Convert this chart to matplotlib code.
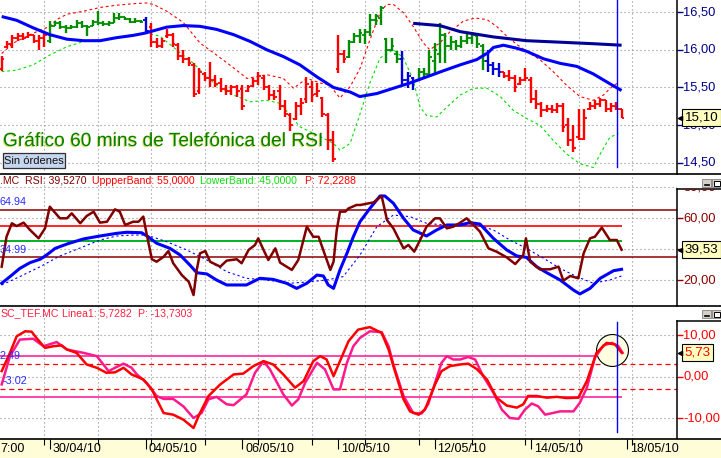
import matplotlib
matplotlib.use("Agg")
import matplotlib.pyplot as plt
import matplotlib.patheffects as pe
from matplotlib.lines import Line2D
from matplotlib.patches import Rectangle
import numpy as np

plt.rcParams['font.family'] = ['Liberation Sans', 'DejaVu Sans']

# ---------------------------------------------------------------- data
# hourly OHLC bars of TEF.MC, 29/04/10 .. 17/05/10 (9 bars per day)
highs = [15.92, 16.11, 16.20, 16.22, 16.22, 16.24, 16.20, 16.20, 16.24,
         16.38, 16.38, 16.38, 16.33, 16.33, 16.40, 16.38, 16.33, 16.40,
         16.51, 16.38, 16.38, 16.49, 16.49, 16.44, 16.42, 16.42, 16.40,
         16.44, 16.36, 16.16, 16.16, 16.27, 16.22, 16.09, 16.00, 15.91,
         15.82, 15.76, 15.71, 15.84, 15.67, 15.62, 15.53, 15.53, 15.53,
         15.53, 15.53, 15.62, 15.71, 15.67, 15.53, 15.47, 15.53, 15.33,
         15.16, 15.31, 15.36, 15.64, 15.58, 15.56, 15.38, 15.16, 14.93,
         16.20, 16.00, 16.13, 16.22, 16.27, 16.27, 16.47, 16.47, 16.58,
         16.16, 16.16, 15.98, 15.98, 15.71, 15.64, 15.76, 15.76, 16.00,
         16.09, 16.36, 16.22, 16.18, 16.13, 16.18, 16.22, 16.24, 16.18,
         16.07, 16.00, 15.84, 15.82, 15.71, 15.73, 15.67, 15.64, 15.76,
         15.64, 15.47, 15.31, 15.27, 15.27, 15.29, 15.29, 15.09, 15.00,
         15.22, 15.22, 15.31, 15.33, 15.36, 15.33, 15.29, 15.31, 15.22]
lows = [15.72, 16.02, 16.02, 16.11, 16.13, 16.16, 16.09, 16.00, 16.04,
        16.09, 16.31, 16.27, 16.22, 16.27, 16.29, 16.29, 16.18, 16.31,
        16.33, 16.32, 16.32, 16.35, 16.40, 16.40, 16.35, 16.35, 16.35,
        16.22, 16.04, 16.02, 16.02, 16.16, 16.04, 15.87, 15.82, 15.78,
        15.38, 15.42, 15.58, 15.51, 15.51, 15.44, 15.40, 15.40, 15.38,
        15.20, 15.44, 15.51, 15.53, 15.47, 15.33, 15.33, 15.20, 15.11,
        14.93, 15.07, 15.13, 15.29, 15.31, 15.38, 15.11, 14.67, 14.51,
        15.69, 15.82, 15.89, 16.09, 16.09, 16.07, 16.18, 16.33, 16.33,
        15.82, 15.98, 15.82, 15.53, 15.49, 15.47, 15.58, 15.62, 15.67,
        15.67, 15.82, 15.82, 16.00, 16.00, 16.02, 16.07, 16.07, 16.02,
        15.73, 15.71, 15.67, 15.64, 15.62, 15.58, 15.44, 15.53, 15.58,
        15.29, 15.22, 15.11, 15.18, 15.16, 15.16, 14.91, 14.73, 14.64,
        14.80, 14.80, 15.20, 15.22, 15.24, 15.18, 15.18, 15.20, 15.10]
opens = [15.75, 16.04, 16.08, 16.15, 16.18, 16.17, 16.20, 16.12, 16.15,
         16.12, 16.32, 16.35, 16.30, 16.29, 16.30, 16.36, 16.32, 16.32,
         16.37, 16.35, 16.34, 16.36, 16.42, 16.43, 16.41, 16.37, 16.38,
         16.40, 16.30, 16.10, 16.05, 16.18, 16.20, 16.06, 15.92, 15.88,
         15.80, 15.45, 15.68, 15.62, 15.60, 15.56, 15.48, 15.45, 15.50,
         15.48, 15.46, 15.52, 15.58, 15.62, 15.50, 15.40, 15.45, 15.25,
         15.14, 15.08, 15.25, 15.35, 15.50, 15.42, 15.36, 15.14, 14.80,
         15.75, 15.95, 15.90, 16.10, 16.18, 16.20, 16.24, 16.40, 16.42,
         16.14, 16.00, 15.95, 15.88, 15.60, 15.62, 15.60, 15.70, 15.68,
         15.85, 15.95, 16.20, 16.05, 16.10, 16.05, 16.12, 16.15, 16.18,
         16.05, 15.85, 15.80, 15.75, 15.70, 15.65, 15.62, 15.54, 15.60,
         15.60, 15.35, 15.28, 15.20, 15.22, 15.20, 15.25, 15.00, 14.80,
         14.85, 14.82, 15.22, 15.25, 15.28, 15.33, 15.22, 15.25, 15.22]
closes = [15.88, 16.08, 16.15, 16.18, 16.16, 16.20, 16.12, 16.15, 16.20,
          16.32, 16.35, 16.30, 16.29, 16.30, 16.36, 16.32, 16.30, 16.37,
          16.35, 16.34, 16.35, 16.42, 16.43, 16.41, 16.37, 16.38, 16.37,
          16.25, 16.10, 16.05, 16.12, 16.20, 16.08, 15.92, 15.88, 15.82,
          15.42, 15.70, 15.62, 15.60, 15.55, 15.48, 15.45, 15.50, 15.45,
          15.25, 15.50, 15.58, 15.65, 15.50, 15.40, 15.38, 15.25, 15.15,
          15.00, 15.25, 15.30, 15.55, 15.40, 15.45, 15.15, 14.80, 14.55,
          15.95, 15.88, 16.10, 16.18, 16.22, 16.24, 16.40, 16.45, 16.55,
          16.00, 16.05, 15.88, 15.60, 15.65, 15.58, 15.70, 15.68, 15.90,
          16.00, 16.20, 16.05, 16.10, 16.05, 16.12, 16.15, 16.20, 16.08,
          15.85, 15.80, 15.75, 15.70, 15.65, 15.62, 15.50, 15.60, 15.62,
          15.35, 15.28, 15.20, 15.22, 15.20, 15.25, 14.98, 14.80, 14.70,
          14.82, 15.10, 15.25, 15.28, 15.33, 15.22, 15.25, 15.22, 15.10]
# bar colour state: r = bearish, g = bullish, b = neutral
bar_state = ("rrrrrrrrr" + "g" * 18 + "b" + "r" * 37 + "g" * 10 + "bbb"
             + "g" * 13 + "bbb" + "r" * 23)

# moving averages / bands (bar position, price)
ma_pts = [(0, 16.44), (2.8, 16.39), (5.9, 16.29), (9.0, 16.20), (12.2, 16.14),
          (15.3, 16.12), (18.4, 16.12), (21.5, 16.16), (24.6, 16.19), (26.8, 16.22),
          (30.9, 16.30), (34.0, 16.32), (37.1, 16.31), (40.2, 16.27), (43.4, 16.20),
          (46.5, 16.11), (49.6, 16.00), (52.7, 15.91), (55.8, 15.80), (59.0, 15.64),
          (62.1, 15.50), (65.2, 15.44), (67.0, 15.38), (70.2, 15.42), (73.3, 15.49),
          (76.4, 15.56), (79.5, 15.64), (82.6, 15.72), (85.8, 15.80), (88.9, 15.87),
          (91.0, 15.96), (92.0, 16.03), (93.9, 16.06), (96.4, 16.02), (98.2, 15.98),
          (101.4, 15.88), (104.5, 15.82), (107.6, 15.78), (110.7, 15.68),
          (113.8, 15.55), (116.0, 15.46)]
slow_ma_pts = [(77.0, 16.35), (82.0, 16.32), (85.8, 16.24), (92.0, 16.17),
               (98.2, 16.12), (104.5, 16.10), (110.7, 16.08), (116.0, 16.06)]
upper_band_pts = [(0, 15.95), (2.2, 16.09), (5.9, 16.22), (9.0, 16.31), (10.3, 16.40),
                  (12.2, 16.47), (15.3, 16.51), (18.4, 16.56), (21.5, 16.59),
                  (24.6, 16.61), (27.1, 16.62), (28.4, 16.60), (30.9, 16.51),
                  (34.0, 16.36), (37.1, 16.09), (40.2, 15.93), (43.4, 15.76),
                  (45.9, 15.62), (49.6, 15.67), (52.7, 15.62), (54.6, 15.49),
                  (57.1, 15.62), (59.6, 15.56), (61.4, 15.53), (63.3, 15.36),
                  (65.2, 15.51), (67.1, 15.76), (68.9, 16.13), (70.8, 16.49),
                  (72.0, 16.60), (73.3, 16.60), (75.2, 16.49), (77.0, 16.31),
                  (78.9, 16.09), (80.1, 16.00), (82.0, 16.09), (83.9, 16.24),
                  (86.4, 16.38), (88.6, 16.42), (90.8, 16.40), (92.6, 16.31),
                  (94.5, 16.18), (96.4, 16.07), (98.2, 15.98), (100.7, 15.87),
                  (103.2, 15.71), (105.7, 15.53), (108.2, 15.38), (110.7, 15.33),
                  (112.6, 15.40), (114.5, 15.53), (115.4, 15.56)]
lower_band_pts = [(0, 15.71), (2.8, 15.73), (5.9, 15.80), (9.0, 15.93), (12.2, 16.04),
                  (15.3, 16.11), (18.4, 16.13), (21.5, 16.16), (24.6, 16.20),
                  (27.1, 16.22), (29.6, 16.18), (31.5, 16.07), (33.4, 15.96),
                  (35.9, 15.82), (38.4, 15.64), (40.9, 15.49), (43.4, 15.40),
                  (46.5, 15.31), (49.6, 15.33), (52.1, 15.29), (54.0, 15.13),
                  (55.8, 14.98), (59.0, 14.87), (62.1, 14.76), (63.3, 14.67),
                  (65.2, 14.76), (67.1, 15.16), (68.9, 15.56), (70.8, 15.89),
                  (73.3, 16.00), (75.2, 15.89), (77.0, 15.60), (78.3, 15.24),
                  (79.5, 15.13), (81.4, 15.11), (83.3, 15.24), (85.8, 15.40),
                  (88.3, 15.49), (90.8, 15.49), (93.3, 15.38), (95.7, 15.20),
                  (98.2, 15.09), (100.7, 15.00), (103.2, 14.80), (105.7, 14.62),
                  (108.2, 14.49), (110.7, 14.44), (112.0, 14.62), (113.8, 14.84),
                  (115.4, 14.89)]

# RSI panel
rsi_pts = [(0.0, 28.6), (0.9, 47.9), (1.9, 56.6), (2.8, 54.8), (4.1, 57.0), (5.3, 52.3),
           (6.9, 46.9), (8.1, 53.3), (9.0, 67.3), (10.9, 59.8), (12.2, 59.8), (13.1, 63.0),
           (14.7, 56.6), (15.9, 61.3), (17.2, 64.1), (18.4, 57.0), (19.7, 57.6),
           (21.2, 65.6), (22.1, 64.1), (23.1, 55.5), (24.6, 57.6), (25.6, 57.6),
           (26.5, 60.9), (27.1, 50.1), (28.1, 33.4), (29.0, 31.8), (30.3, 35.0),
           (31.2, 38.7), (32.1, 30.8), (33.7, 23.2), (35.0, 18.9), (35.9, 10.3),
           (36.5, 26.5), (37.1, 37.2), (38.1, 38.7), (39.0, 31.8), (40.9, 28.6),
           (42.1, 32.5), (44.0, 33.4), (44.9, 30.8), (46.2, 39.4), (47.4, 42.6),
           (48.0, 46.9), (49.0, 39.4), (49.9, 32.9), (51.2, 40.4), (52.1, 31.2),
           (54.3, 26.5), (55.5, 32.9), (57.1, 54.4), (58.3, 47.9), (59.3, 47.9),
           (60.5, 36.1), (61.5, 26.5), (62.1, 31.8), (62.7, 52.3), (63.3, 64.1),
           (64.3, 64.1), (64.9, 66.2), (66.4, 68.4), (67.1, 68.4), (69.6, 70.1),
           (71.1, 74.2), (72.1, 58.7), (73.3, 53.3), (75.2, 40.4), (76.1, 42.6),
           (77.2, 38.3), (78.3, 45.8), (79.5, 54.4), (81.1, 59.8), (82.0, 59.8),
           (83.3, 53.3), (84.5, 54.4), (85.8, 57.0), (87.0, 59.8), (88.3, 55.5),
           (89.5, 51.2), (91.1, 40.4), (92.6, 38.3), (94.5, 34.6), (96.1, 30.3),
           (97.6, 36.1), (98.1, 46.9), (98.9, 31.8), (100.7, 26.9), (102.6, 26.9),
           (104.2, 28.6), (105.1, 19.6), (106.4, 22.6), (107.9, 21.1), (108.9, 37.2),
           (110.1, 46.9), (111.0, 47.9), (112.3, 53.8), (113.8, 45.8), (115.1, 45.8),
           (116.0, 39.53)]
rsi_avg_pts = [(0.0, 17.9), (1.55, 22.2), (3.4, 27.5), (5.3, 31.2), (7.2, 33.4),
               (8.4, 36.1), (10.0, 40.4), (12.2, 43.2), (15.3, 46.5), (18.4, 48.4),
               (21.5, 50.1), (23.4, 50.8), (26.2, 50.5), (27.4, 47.9), (29.0, 43.7),
               (31.5, 40.4), (33.4, 36.1), (35.2, 29.7), (36.5, 24.7), (38.4, 23.9),
               (40.2, 20.0), (42.1, 16.8), (45.8, 16.8), (48.3, 21.1), (50.8, 20.4),
               (53.3, 17.9), (55.2, 14.6), (57.1, 17.9), (59.0, 23.2), (60.2, 22.6),
               (61.1, 16.8), (62.1, 14.6), (63.3, 26.5), (64.6, 37.2), (65.8, 47.9),
               (67.05, 57.6), (68.9, 66.2), (70.8, 74.2), (71.7, 74.2), (73.3, 69.5),
               (75.2, 59.8), (77.0, 52.3), (79.5, 48.4), (81.4, 52.3), (83.3, 55.5),
               (85.8, 55.5), (87.6, 57.0), (89.5, 56.1), (92.0, 46.9), (94.5, 39.4),
               (96.4, 35.5), (98.2, 34.6), (100.1, 28.6), (102.0, 24.7), (104.5, 20.0),
               (107.0, 13.5), (108.2, 11.0), (110.1, 14.6), (112.0, 21.1), (114.5, 26.0),
               (116.0, 26.9)]
rsi_signal_pts = [(0.0, 16.8), (3.4, 22.2), (7.2, 28.6), (10.9, 35.5), (15.3, 41.5),
                  (18.4, 45.8), (21.5, 48.4), (24.6, 49.0), (27.1, 49.0), (30.9, 44.7),
                  (34.6, 39.4), (38.4, 32.9), (42.1, 25.4), (45.8, 21.1), (49.6, 20.0),
                  (54.0, 17.9), (57.7, 18.9), (60.8, 20.0), (63.9, 22.2), (67.05, 36.1),
                  (70.2, 54.4), (73.3, 61.9), (76.4, 60.9), (79.5, 56.6), (82.6, 55.5),
                  (85.8, 55.5), (88.9, 55.5), (92.0, 52.3), (95.1, 45.8), (98.2, 40.4),
                  (101.4, 34.0), (104.5, 27.5), (107.6, 22.2), (110.7, 17.9), (113.8, 20.0),
                  (116.0, 22.6)]
rsi_upper, rsi_lower = 55.0, 45.0
rsi_mid_line = 45.4
rsi_max_line, rsi_min_line = 64.94, 34.99

# oscillator panel
osc_pts = [(0.0, 1.3), (1.55, 5.7), (2.8, 9.7), (4.4, 10.9), (5.6, 10.8), (6.5, 9.3),
           (8.1, 6.9), (9.7, 7.3), (11.2, 7.5), (12.2, 6.5), (14.0, 5.7), (15.9, 2.9),
           (17.8, 2.1), (19.6, 0.9), (21.2, 1.0), (22.8, 2.1), (24.3, 0.5), (26.5, -0.7),
           (28.1, -3.1), (29.0, -5.5), (30.3, -8.8), (32.1, -9.2), (34.0, -10.4),
           (35.9, -12.4), (37.1, -8.8), (38.7, -4.7), (40.9, -1.9), (43.4, 0.5),
           (45.2, 0.7), (47.1, 2.5), (49.0, 3.7), (50.8, 2.9), (52.7, 0.5), (54.9, -2.7),
           (56.5, -1.1), (58.3, 3.7), (59.6, 4.9), (60.8, 4.1), (62.1, 0.1), (63.3, 3.7),
           (64.9, 8.5), (66.7, 11.3), (68.9, 11.9), (71.1, 10.5), (72.4, 6.5), (73.3, 2.5),
           (75.2, -5.5), (76.4, -8.4), (78.0, -9.2), (79.2, -8.0), (80.1, -5.1),
           (81.1, -1.9), (82.3, 1.3), (83.9, 2.5), (85.8, 2.9), (87.3, 3.1), (88.9, 1.8),
           (90.8, -0.7), (92.6, -5.1), (94.5, -7.0), (96.4, -7.5), (97.6, -6.7),
           (98.5, -4.7), (100.1, -4.7), (102.0, -5.1), (103.9, -4.9), (105.7, -5.2),
           (107.9, -5.1), (109.5, -1.1), (111.3, 5.7), (113.2, 8.1), (114.8, 7.7),
           (116.0, 5.73)]
osc_smooth_pts = [(0.0, -1.9), (1.55, 4.9), (3.4, 8.9), (5.9, 9.1), (7.8, 7.3),
                  (10.3, 8.3), (12.2, 6.5), (15.3, 5.7), (17.8, 4.9), (20.0, 1.3),
                  (21.2, 2.1), (22.8, 3.1), (24.3, 2.1), (25.3, 0.5), (27.1, -1.5),
                  (29.0, -4.7), (30.3, -5.4), (32.1, -5.4), (34.0, -7.2), (35.9, -10.0),
                  (37.4, -8.8), (38.7, -5.5), (40.2, -4.9), (42.1, -6.7), (43.4, -6.9),
                  (45.8, -4.3), (47.4, 0.9), (49.0, 3.7), (50.2, 1.7), (52.7, -4.3),
                  (54.3, -7.0), (55.5, -5.5), (56.8, -1.5), (59.0, 3.3), (60.5, 1.7),
                  (62.1, -3.1), (63.3, -3.1), (64.6, 3.3), (65.8, 7.3), (67.05, 9.3),
                  (68.9, 10.9), (71.1, 10.7), (72.4, 7.3), (73.3, 2.9), (75.2, -4.7),
                  (77.0, -8.8), (78.6, -8.9), (79.8, -6.7), (80.8, -2.7), (82.3, 3.3),
                  (83.3, 4.9), (84.5, 4.1), (85.8, 4.1), (87.3, 4.7), (88.6, 4.1),
                  (90.1, 0.1), (92.0, -3.9), (93.6, -8.0), (95.1, -10.0), (96.7, -10.2),
                  (97.9, -8.0), (99.2, -6.5), (100.4, -7.2), (101.7, -9.2), (104.5, -8.4),
                  (107.0, -8.4), (108.2, -6.3), (109.5, -2.7), (111.0, 4.5), (112.6, 7.5),
                  (114.2, 8.1), (115.4, 7.3), (116.2, 5.7)]
osc_outer, osc_inner = 5.0, 3.0
circle_bar, circle_val = 114.2, 6.3
cursor_bar = 115.1

# axis labels
price_ticks = [14.5, 15.0, 15.5, 16.0, 16.5]
rsi_ticks = [20, 40, 60, 80]
rsi_labels = [20, 60, 80]          # 40,00 is hidden under the value box
osc_ticks = [-10, 0, 10]
grid_bars = [8, 18, 28, 38, 48, 58, 68, 78, 88, 98, 108, 118]
day_label_bars = [9, 27, 45, 63, 81, 99, 117]
day_labels = ['30/04/10', '04/05/10', '06/05/10', '10/05/10', '12/05/10',
              '14/05/10', '18/05/10']
title = 'Gráfico 60 mins de Telefónica del RSI'

# ---------------------------------------------------------------- layout
W, H = 721, 458
fig = plt.figure(figsize=(W / 100, H / 100), dpi=100)
fig.patch.set_facecolor('white')


def px_rect(x0, y0, x1, y1):
    return [x0 / W, 1 - y1 / H, (x1 - x0) / W, (y1 - y0) / H]


XLIM = (-0.318, 126.37)
XLIM_FULL = (-0.318, 134.6)
P1 = (0, 174, (14.354, 16.659))
P2 = (174, 306, (3.23, 88.39))
P3 = (306, 439, (-15.06, 16.99))


def val_at(panel, py):
    y0, y1, (lo, hi) = panel
    return hi - (py - y0) * (hi - lo) / (y1 - y0)


def make_main(panel):
    y0, y1, ylim = panel
    ax = fig.add_axes(px_rect(0, y0, 677, y1))
    ax.set_xlim(*XLIM)
    ax.set_ylim(*ylim)
    ax.set_xticks([])
    ax.set_yticks([])
    for s in ax.spines.values():
        s.set_visible(False)
    return ax


ax1 = make_main(P1)
ax2 = make_main(P2)
ax3 = make_main(P3)

GRID = dict(color='#8a8a8a', lw=0.8, ls=(0, (1, 2.6)), zorder=0)
for ax, hv in ((ax1, price_ticks), (ax2, rsi_ticks), (ax3, osc_ticks)):
    for g in grid_bars:
        ax.axvline(g, **GRID)
    for v in hv:
        ax.axhline(v, **GRID)

# ---------------------------------------------------------------- price panel
idx = np.arange(len(closes))
cmap = {'r': '#ff0000', 'g': '#008c00', 'b': '#0000d8'}
cols = [cmap[c] for c in bar_state]
ax1.plot(*zip(*upper_band_pts), color='#ff0000', lw=0.8, ls=(0, (2.5, 2.5)), zorder=2)
ax1.plot(*zip(*lower_band_pts), color='#00e000', lw=0.8, ls=(0, (2.5, 2.5)), zorder=2)
ax1.vlines(idx, lows, highs, colors=cols, lw=1.7, zorder=3)
ax1.hlines(opens, idx - 0.5, idx, colors=cols, lw=1.3, zorder=3)
ax1.hlines(closes, idx, idx + 0.5, colors=cols, lw=1.3, zorder=3)
ax1.plot(*zip(*ma_pts), color='#0000ff', lw=2.2, zorder=4, solid_capstyle='butt')
ax1.plot(*zip(*slow_ma_pts), color='#000098', lw=2.2, zorder=4, solid_capstyle='butt')
ax1.axvline(cursor_bar, ymin=0.04, ymax=1, color='#0000ff', lw=1, zorder=5)

ax1.text(3 / 677, 1 - 146 / 174, title, transform=ax1.transAxes, fontsize=13.8,
         color='#008000', va='baseline', ha='left', zorder=6,
         path_effects=[pe.SimplePatchShadow(offset=(-0.7, -0.7), shadow_rgbFace='#d8d850',
                                            alpha=0.9), pe.Normal()])
ax1.add_patch(Rectangle((3 / 677, 1 - 168 / 174), 62 / 677, 15 / 174,
                        transform=ax1.transAxes, fc='#c6d6ee', ec='#303030', lw=0.9,
                        zorder=6))
ax1.text(34 / 677, 1 - 160.5 / 174, 'Sin órdenes', transform=ax1.transAxes,
         fontsize=8, ha='center', va='center', color='#101010', zorder=7)

# ---------------------------------------------------------------- RSI panel
ax2.axhline(rsi_max_line, color='#8b0000', lw=1.1, zorder=1)
ax2.axhline(rsi_min_line, color='#8b0000', lw=1.1, zorder=1)
ax2.hlines(rsi_upper, XLIM[0], idx[-1] + 0.1, color='#ff0000', lw=1.2, zorder=1)
ax2.hlines(rsi_mid_line, XLIM[0], idx[-1] + 0.1, color='#0000ff', lw=1.2, zorder=1)
ax2.hlines(rsi_lower, XLIM[0], idx[-1] + 0.1, color='#00d000', lw=1.2, zorder=1)
ax2.plot(*zip(*rsi_signal_pts), color='#0000ff', lw=0.8, ls=(0, (2, 2.5)), zorder=2)
ax2.plot(*zip(*rsi_avg_pts), color='#0000ff', lw=2.2, zorder=3)
ax2.plot(*zip(*rsi_pts), color='#800000', lw=1.8, zorder=4)


def ptext(ax, panel, px, py, s, color, size, **kw):
    y0, y1, _ = panel
    ax.text(px / 677, 1 - (py - y0) / (y1 - y0), s, transform=ax.transAxes,
            color=color, fontsize=size, ha='left', va='center', zorder=8, **kw)


ptext(ax2, P2, 0, 180.5, '.MC', '#800000', 7.6)
ptext(ax2, P2, 25, 180.5, 'RSI: 39,5270', '#800000', 7.6)
ptext(ax2, P2, 92, 180.5, 'UppperBand: 55,0000', '#ff0000', 7.6)
ptext(ax2, P2, 200, 180.5, 'LowerBand: 45,0000', '#11e011', 7.6)
ptext(ax2, P2, 305, 180.5, 'P: 72,2288', '#ff0000', 7.6)
ptext(ax2, P2, 0, 202, '64.94', '#2a2aff', 7.8)
ptext(ax2, P2, 0, 250, '34.99', '#2a2aff', 7.8)

# ---------------------------------------------------------------- oscillator panel
ax3.axhline(osc_inner, color='#ff0000', lw=0.9, ls=(0, (4, 3)), zorder=1)
ax3.axhline(-osc_inner, color='#ff0000', lw=0.9, ls=(0, (4, 3)), zorder=1)
ax3.hlines([osc_outer, -osc_outer], XLIM[0], idx[-1] + 0.1, color='#ff1493', lw=1.1,
           zorder=1)
ax3.plot([circle_bar], [circle_val], 'o', ms=23, mfc='#ffffe0', mec='black', mew=0.8,
         zorder=1.5)
ax3.plot(*zip(*osc_smooth_pts), color='#ff1a8c', lw=1.8, zorder=3)
ax3.plot(*zip(*osc_pts), color='#ff0000', lw=1.8, zorder=4)
ax3.axvline(cursor_bar, ymin=0.053, ymax=0.88, color='#0000ff', lw=1, zorder=5)
ptext(ax3, P3, 0, 313.5, 'SC_TEF.MC', '#ff2040', 7.6)
ptext(ax3, P3, 62, 313.5, 'Linea1: 5,7282', '#ff2040', 7.6)
ptext(ax3, P3, 138, 313.5, 'P: -13,7303', '#ff2040', 7.6)
ptext(ax3, P3, 0, 356, '2.49', '#2a2aff', 7.8)
ptext(ax3, P3, 3, 381, '-3.02', '#2a2aff', 7.8)


# ---------------------------------------------------------------- right value axes
def fmt(v, d=2):
    return f'{v:.{d}f}'.replace('.', ',')


def right_axes(panel, ytop, ticks, labels, color, top_spine):
    y0, y1, (lo, hi) = panel
    r = fig.add_axes(px_rect(677, ytop, 721, y1))
    r.set_xlim(0, 1)
    r.set_ylim(lo, val_at(panel, ytop))
    r.spines['right'].set_visible(False)
    r.spines['bottom'].set_visible(False)
    r.spines['top'].set_visible(top_spine)
    r.spines['left'].set_linewidth(1.1)
    r.spines['top'].set_linewidth(1.1)
    r.set_xticks([])
    r.set_yticks([t for t in ticks if lo < t < val_at(panel, ytop)])
    r.tick_params(axis='y', left=True, right=False, direction='in', length=4.5,
                  width=1, colors=color, labelleft=False)
    for t in labels:
        r.text(0.14, t, fmt(t), transform=r.get_yaxis_transform(), color=color,
               fontsize=9.3, ha='left', va='center', clip_on=True)
    return r


r1 = right_axes(P1, 0, price_ticks, price_ticks, '#000088', False)
r2 = right_axes(P2, 189, rsi_ticks, rsi_labels, '#8b0000', True)
r3 = right_axes(P3, 321, osc_ticks, osc_ticks, '#ff0000', True)

BOX = dict(boxstyle='square,pad=0.18', fc='#ffffc0', ec='black', lw=0.8)
for r, v, c in ((r1, closes[-1], 'black'), (r2, rsi_pts[-1][1], 'black'),
                (r3, osc_pts[-1][1], '#ff0000')):
    r.text(0.17, v, fmt(v), transform=r.get_yaxis_transform(), color=c, fontsize=9.6,
           ha='left', va='center', bbox=BOX, zorder=5)
    r.plot([0.07], [v], marker='<', ms=3, color='black', transform=r.get_yaxis_transform(),
           zorder=5)

# ---------------------------------------------------------------- date axis
axd = fig.add_axes(px_rect(0, 439, 721, 458))
axd.set_facecolor('#fffcd8')
axd.set_xlim(*XLIM_FULL)
axd.set_ylim(0, 1)
for s in ('left', 'right', 'bottom'):
    axd.spines[s].set_visible(False)
axd.spines['top'].set_linewidth(1.2)
axd.set_yticks([])
axd.set_xticks(day_label_bars)
axd.set_xticks(grid_bars, minor=True)
axd.tick_params(axis='x', which='major', top=True, bottom=False, direction='in',
                length=7, width=0.8, labelbottom=False, labeltop=False)
axd.tick_params(axis='x', which='minor', top=True, bottom=False, direction='in',
                length=4, width=0.8)
for b, lab in zip(day_label_bars, day_labels):
    axd.text(b + 0.55, 0.45, lab, fontsize=9, ha='left', va='center', color='black')
axd.text(0.0, 0.45, '7:00', transform=axd.transAxes, fontsize=9, ha='left',
         va='center', color='black')

# ---------------------------------------------------------------- separators / buttons
for py in (174, 306):
    fig.add_artist(Line2D([0, 1], [1 - py / H] * 2, color='black', lw=1.2,
                          transform=fig.transFigure))
for by in (179, 310):
    for bx in (702, 712):
        fig.add_artist(Rectangle((bx / W, 1 - (by + 8) / H), 9 / W, 8 / H,
                                 transform=fig.transFigure, fc='#d4d0c8', ec='#808080',
                                 lw=0.6))
    fig.add_artist(Line2D([704.5 / W, 708.5 / W], [1 - (by + 6) / H] * 2, color='black',
                          lw=1.2, transform=fig.transFigure))
    fig.add_artist(Rectangle((714 / W, 1 - (by + 6.5) / H), 5.5 / W, 5 / H,
                             transform=fig.transFigure, fc='white', ec='black', lw=0.7))

fig.savefig('out.png', dpi=100, facecolor='white')
